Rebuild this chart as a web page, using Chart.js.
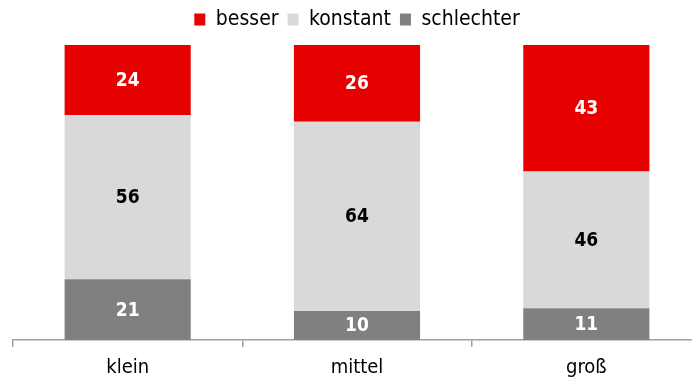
<!DOCTYPE html>
<html>
<head>
<meta charset="utf-8">
<script src="https://cdn.jsdelivr.net/npm/chart.js@4/dist/chart.umd.min.js"></script>
<style>
  html, body { margin: 0; padding: 0; overflow: hidden; background: #fff; }
  #wrap { width: 701px; height: 382px; position: relative; }
</style>
</head>
<body>
<div id="wrap"><canvas id="c"></canvas></div>
<script>
const categories = ["klein", "mittel", "groß"];
const schlechter = [20.6, 9.8, 10.8];
const konstant = [55.7, 64.2, 46.3];
const besser = [23.7, 26.0, 42.9];

const FONT = "'DejaVu Sans Condensed', 'DejaVu Sans', sans-serif";

const barLabels = {
  id: 'barLabels',
  afterDatasetsDraw(chart) {
    const ctx = chart.ctx;
    ctx.save();
    ctx.font = "bold 19px " + FONT;
    ctx.textAlign = 'center';
    ctx.textBaseline = 'middle';
    chart.data.datasets.forEach((ds, di) => {
      const meta = chart.getDatasetMeta(di);
      meta.data.forEach((el, i) => {
        const v = ds.data[i];
        const y = (el.y + el.base) / 2;
        ctx.fillStyle = ds.labelColor;
        ctx.fillText(String(Math.round(v)), el.x, y + 1);
      });
    });
    ctx.restore();
  }
};

const legendSpace = {
  id: 'legendSpace',
  beforeInit(chart) {
    const origFit = chart.legend.fit;
    chart.legend.fit = function () {
      origFit.bind(chart.legend)();
      this.height += 5;
    };
  }
};

new Chart(document.getElementById('c'), {
  type: 'bar',
  data: {
    labels: categories,
    datasets: [
      { label: 'schlechter', data: schlechter, backgroundColor: '#808080', labelColor: '#ffffff' },
      { label: 'konstant', data: konstant, backgroundColor: '#d9d9d9', labelColor: '#000000' },
      { label: 'besser', data: besser, backgroundColor: '#e60000', labelColor: '#ffffff' }
    ]
  },
  options: {
    responsive: true,
    maintainAspectRatio: false,
    animation: false,
    devicePixelRatio: 1,
    layout: { padding: { left: 13, right: 0, top: 0, bottom: 0 } },
    datasets: { bar: { barPercentage: 0.55, categoryPercentage: 1.0, borderWidth: 0 } },
    plugins: {
      legend: {
        position: 'top',
        reverse: true,
        labels: {
          boxWidth: 11,
          boxHeight: 12,
          padding: 9,
          color: '#000',
          font: { family: FONT, size: 21 }
        }
      },
      tooltip: { enabled: false }
    },
    scales: {
      x: {
        stacked: true,
        afterFit(axis) { axis.height = 42; },
        grid: {
          display: true,
          offset: true,
          drawOnChartArea: false,
          drawTicks: true,
          tickLength: 7,
          color: '#a0a0a0',
          lineWidth: 1.5
        },
        border: { display: true, color: '#a0a0a0', width: 1.5 },
        ticks: {
          color: '#000',
          padding: 9,
          font: { family: FONT, size: 20, lineHeight: 1.2 }
        }
      },
      y: {
        stacked: true,
        display: false,
        min: 0,
        max: 100
      }
    }
  },
  plugins: [barLabels, legendSpace]
});
</script>
</body>
</html>
